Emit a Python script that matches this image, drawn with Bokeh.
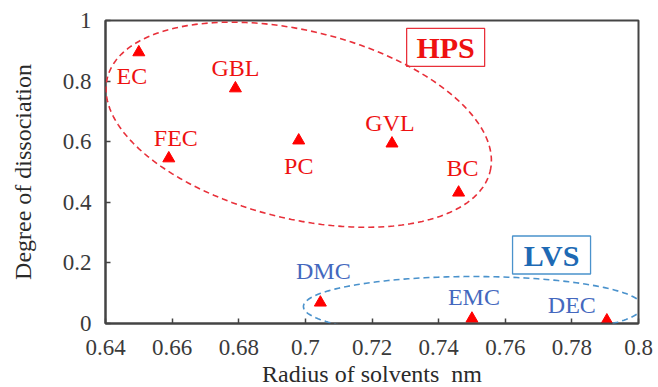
import numpy as np
from bokeh.plotting import figure
from bokeh.models import ColumnDataSource, FixedTicker, PolyAnnotation
from bokeh.core.properties import value
from bokeh.embed import file_html
from bokeh.resources import INLINE

# ---- data ----
solvents = ["EC", "GBL", "FEC", "PC", "GVL", "BC", "DMC", "EMC", "DEC"]
radius = [0.650, 0.679, 0.659, 0.698, 0.726, 0.746, 0.7045, 0.750, 0.7905]
dissociation = [0.895, 0.776, 0.545, 0.604, 0.594, 0.432, 0.069, 0.016, 0.010]
group = ["HPS", "HPS", "HPS", "HPS", "HPS", "HPS", "LVS", "LVS", "LVS"]

x_ticks = [0.64, 0.66, 0.68, 0.70, 0.72, 0.74, 0.76, 0.78, 0.80]
x_tick_labels = ["0.64", "0.66", "0.68", "0.7", "0.72", "0.74", "0.76", "0.78", "0.8"]
y_ticks = [0.0, 0.2, 0.4, 0.6, 0.8, 1.0]
y_tick_labels = ["0", "0.2", "0.4", "0.6", "0.8", "1"]

# ---- styling / layout ----
FONT = "'Liberation Serif', serif"
RED = "#FF0000"
RED_TXT = "#EE1111"
BLUE_TXT = "#4468BE"
BLUE_LINE = "#4A92CC"
label_dx = [-7, 0, 7, 0, -2, 4, 3, 2, -35]
label_dy = [24, -20, -20, 26, -21, -25, -32, -22, -15]
label_col = [RED_TXT if g == "HPS" else BLUE_TXT for g in group]

FW, FH = 533, 303
XR = (x_ticks[0], x_ticks[-1])
YR = (y_ticks[0], y_ticks[-1])
kx = FW / (XR[1] - XR[0])
ky = FH / (YR[1] - YR[0])

p = figure(output_backend="svg", toolbar_location=None,
           frame_width=FW, frame_height=FH,
           min_border_left=105, min_border_right=18,
           min_border_top=20, min_border_bottom=62,
           x_range=XR, y_range=YR)
p.grid.visible = False
p.outline_line_color = "#444444"
p.outline_line_width = 2
p.background_fill_color = "white"
p.border_fill_color = "white"

for ax, ticks, labels in ((p.xaxis[0], x_ticks, x_tick_labels), (p.yaxis[0], y_ticks, y_tick_labels)):
    ax.ticker = FixedTicker(ticks=ticks)
    ax.major_label_overrides = {t: l for t, l in zip(ticks, labels)}
    ax.minor_tick_line_color = None
    ax.major_tick_in = 5
    ax.major_tick_out = 0
    ax.major_tick_line_color = "#444444"
    ax.major_tick_line_width = 1.5
    ax.axis_line_color = "#444444"
    ax.axis_line_width = 2
    ax.major_label_text_font = FONT
    ax.major_label_text_font_size = "23px"
    ax.major_label_text_color = "#3a3a3a"
    ax.axis_label_text_font = FONT
    ax.axis_label_text_font_size = "24px"
    ax.axis_label_text_font_style = "normal"
    ax.axis_label_text_color = "#2a2a2a"

p.xaxis.axis_label = "Radius of solvents\u00a0 nm"
p.yaxis.axis_label = "Degree of dissociation"
p.xaxis.major_label_standoff = 16
p.xaxis.axis_label_standoff = 3
p.yaxis.major_label_standoff = 14
p.yaxis.axis_label_standoff = 24


def ellipse_pts(cx, cy, a_px, b_px, ang_deg):
    t = np.linspace(0, 2 * np.pi, 241)
    phi = np.deg2rad(ang_deg)
    ex = a_px * np.cos(t) * np.cos(phi) - b_px * np.sin(t) * np.sin(phi)
    ey = a_px * np.cos(t) * np.sin(phi) + b_px * np.sin(t) * np.cos(phi)
    return list(cx + ex / kx), list(cy + ey / ky)


# group ellipses (annotations)
xs, ys = ellipse_pts(0.698, 0.656, 197, 94, -13.7)
p.add_layout(PolyAnnotation(xs=xs, ys=ys, fill_alpha=0, line_color="#E8303A",
                            line_alpha=1.0, line_width=1.6, line_dash="6 4"))
xs, ys = ellipse_pts(0.7503, 0.056, 169.5, 30, 0)
p.add_layout(PolyAnnotation(xs=xs, ys=ys, fill_alpha=0, line_color=BLUE_LINE,
                            line_alpha=1.0, line_width=1.6, line_dash="6 4"))

src = ColumnDataSource(dict(x=radius, y=dissociation, name=solvents,
                            dx=label_dx, dy=label_dy, col=label_col))
p.scatter("x", "y", source=src, marker="triangle", size=12,
          fill_color=RED, line_color=RED)
p.text("x", "y", text="name", source=src, x_offset="dx", y_offset="dy",
       text_color="col", text_font=value(FONT), text_font_size="24px",
       text_align="center", text_baseline="middle")

# group name boxes
box_src = ColumnDataSource(dict(x=[0.7421, 0.7739], y=[0.911, 0.226],
                                t=["HPS", "LVS"], lc=["#E8303A", BLUE_LINE],
                                tc=["#EE1111", "#1E6AB4"]))
p.rect("x", "y", width=78, height=38, width_units="screen", height_units="screen",
       source=box_src, fill_color="white", line_color="lc", line_width=1.3)
p.text("x", "y", text="t", source=box_src, text_color="tc", text_font=value(FONT),
       text_font_size="30px", text_font_style="bold",
       text_align="center", text_baseline="middle")

open("out.html", "w").write(file_html(p, INLINE))
